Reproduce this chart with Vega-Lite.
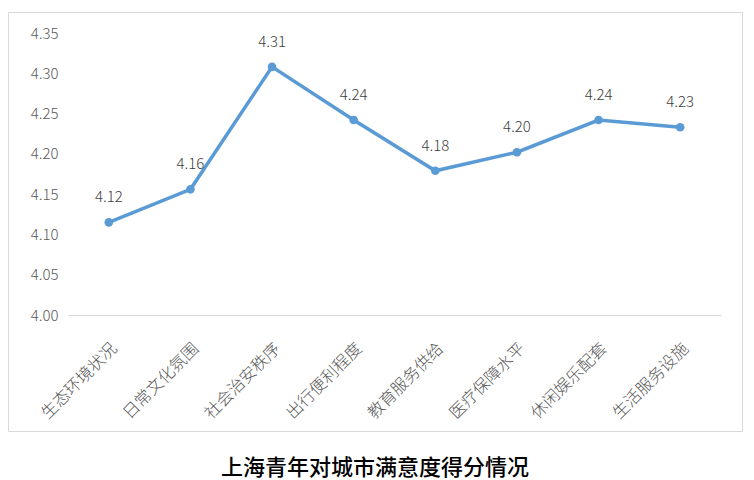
{
  "$schema": "https://vega.github.io/schema/vega-lite/v6.json",
  "description": "上海青年对城市满意度得分情况",
  "autosize": {"type": "none"},
  "padding": {"left": 8, "top": 12, "right": 12, "bottom": 49},
  "width": 734,
  "height": 419,
  "background": "#ffffff",
  "config": {
    "view": {"stroke": "#d9d9d9", "strokeWidth": 1},
    "font": "Noto Sans CJK SC"
  },
  "title": {
    "text": "上海青年对城市满意度得分情况",
    "orient": "bottom",
    "anchor": "middle",
    "font": "Noto Sans CJK SC",
    "fontSize": 22,
    "fontWeight": 500,
    "color": "#000000",
    "offset": 27
  },
  "data": {
    "values": [
      {"item": "生态环境状况", "score": 4.115},
      {"item": "日常文化氛围", "score": 4.156},
      {"item": "社会治安秩序", "score": 4.308},
      {"item": "出行便利程度", "score": 4.242},
      {"item": "教育服务供给", "score": 4.179},
      {"item": "医疗保障水平", "score": 4.202},
      {"item": "休闲娱乐配套", "score": 4.242},
      {"item": "生活服务设施", "score": 4.233}
    ]
  },
  "encoding": {
    "x": {
      "field": "item",
      "type": "nominal",
      "sort": null,
      "bandPosition": 0.5,
      "scale": {"type": "band", "range": [60, 713], "paddingInner": 0, "paddingOuter": 0},
      "axis": {
        "title": null,
        "offset": -116,
        "ticks": false,
        "domainColor": "#d9d9d9",
        "domainWidth": 1,
        "labelAngle": -45,
        "labelFontSize": 16.5,
        "labelFontWeight": 300,
        "labelColor": "#595959",
        "labelPadding": 25
      }
    },
    "y": {
      "field": "score",
      "type": "quantitative",
      "scale": {"domain": [4.0, 4.35], "range": [303, 21], "zero": false, "nice": false},
      "axis": {
        "title": null,
        "offset": -60,
        "domain": false,
        "ticks": false,
        "grid": false,
        "values": [4.0, 4.05, 4.1, 4.15, 4.2, 4.25, 4.3, 4.35],
        "format": ".2f",
        "labelFontSize": 15,
        "labelFontWeight": 300,
        "labelColor": "#595959",
        "labelPadding": 10
      }
    }
  },
  "layer": [
    {"mark": {"type": "line", "color": "#5b9bd5", "strokeWidth": 3.5}},
    {"mark": {"type": "point", "filled": true, "color": "#5b9bd5", "size": 75, "opacity": 1}},
    {
      "mark": {"type": "text", "dy": -25, "fontSize": 15, "fontWeight": 300, "color": "#404040"},
      "encoding": {"text": {"field": "score", "type": "quantitative", "format": ".2f"}}
    }
  ]
}
